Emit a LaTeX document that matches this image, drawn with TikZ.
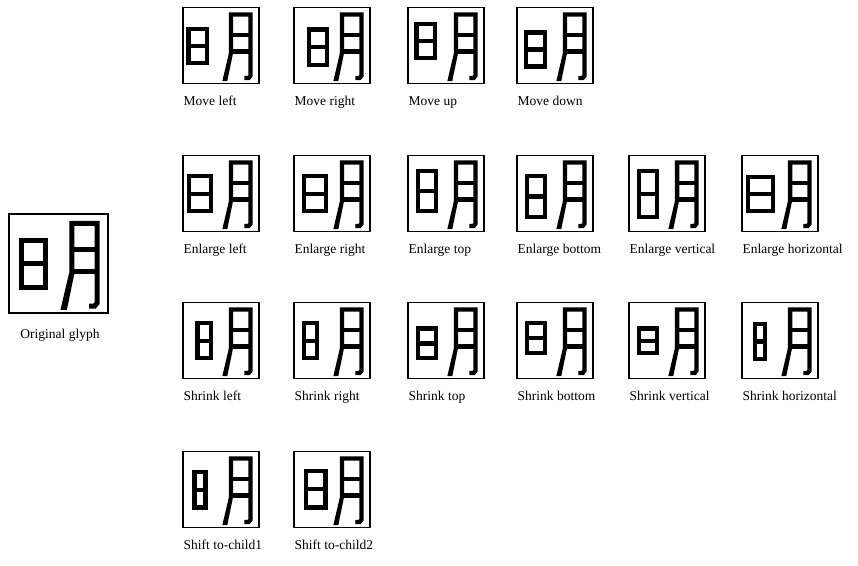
\documentclass[tikz,border=0pt]{standalone}
\usepackage{fontspec}
\setmainfont{Liberation Serif}
\usetikzlibrary{calc}
\tikzset{
  gbox/.style={draw, line width=1.1pt, minimum size=76pt, inner sep=0pt},
  bigbox/.style={draw, line width=1.1pt, minimum size=99pt, inner sep=0pt},
  lbl/.style={anchor=base west, inner sep=0pt, font=\fontsize{13.5}{16}\selectfont},
  pics/ri/.style args={#1/#2/#3/#4}{code={
    \draw (#1,#3) rectangle (#2,#4);
    \draw (#1,{(#3+#4)/2}) -- (#2,{(#3+#4)/2});
  }},
  pics/yue/.style={code={
    \draw (64,62) -- (64,10) -- (89.5,10) -- (89.5,90.5) -- (87,93.5) -- (81.5,93.5);
    \draw (64,36.5) -- (89.5,36.5);
    \draw (64,58.5) -- (89.5,58.5);
    \fill (61.3,60) -- (66.7,60) -- (59,97.5) -- (52.5,97.5) -- cycle;
  }},
}
\newcommand\gcell[4]{%
  \node[gbox] (#1) at (#2) {};
  \node[lbl] (#1-l) at ($(#1.south west)+(1,21)$) {#3};
  \begin{scope}[shift={(#1.north west)}, scale=0.76, transform shape, line width=4.3pt]
    \pic {ri=#4};
    \pic {yue};
  \end{scope}}
\begin{document}
\begin{tikzpicture}[x=1pt, y=-1pt]
\useasboundingbox (0,0) rectangle (858,565);
\fill[white] (0,0) rectangle (858,565);
% original glyph
\node[bigbox] (orig) at (58.5,263.5) {};
\node[anchor=base, inner sep=0pt, font=\fontsize{13.5}{16}\selectfont] (orig-l) at ($(orig.south)+(1.5,25)$) {Original glyph};
\begin{scope}[shift={(orig.north west)}, scale=0.99, transform shape, line width=5pt]
  \pic {ri=13.5/37.5/27.5/74.5};
  \pic {yue};
\end{scope}
% row 1
\gcell{ml}{221,45.5}{Move left}{7.8/32.2/28.8/74.2}
\gcell{mr}{332,45.5}{Move right}{20.8/44.2/29.8/76.2}
\gcell{mu}{446,45.5}{Move up}{11.8/36.2/22.8/67.2}
\gcell{md}{555,45.5}{Move down}{12.8/37.2/33.8/78.2}
% row 2
\gcell{el}{221,193.5}{Enlarge left}{8.8/37.2/27.8/74.2}
\gcell{er}{332,193.5}{Enlarge right}{13.8/43.2/27.8/74.2}
\gcell{et}{446,193.5}{Enlarge top}{13.8/37.2/20.8/74.2}
\gcell{eb}{555,193.5}{Enlarge bottom}{13.8/37.2/27.8/81.2}
\gcell{ev}{667,193.5}{Enlarge vertical}{13.8/37.2/20.8/81.2}
\gcell{eh}{780,193.5}{Enlarge horizontal}{8.8/41.2/28.8/74.2}
% row 3
\gcell{sl}{221,340.5}{Shrink left}{19.8/37.2/27.8/74.2}
\gcell{sr}{332,340.5}{Shrink right}{13.8/31.2/27.8/74.2}
\gcell{st}{446,340.5}{Shrink top}{13.8/37.2/34.8/74.2}
\gcell{sb}{555,340.5}{Shrink bottom}{13.8/37.2/27.8/67.2}
\gcell{sv}{667,340.5}{Shrink vertical}{13.8/37.2/34.8/67.2}
\gcell{sh}{780,340.5}{Shrink horizontal}{17.8/31.2/28.8/75.2}
% row 4
\gcell{c1}{221,489.5}{Shift to-child1}{15.8/30.2/27.8/74.2}
\gcell{c2}{332,489.5}{Shift to-child2}{16.8/42.2/26.8/74.2}
\end{tikzpicture}
\end{document}
